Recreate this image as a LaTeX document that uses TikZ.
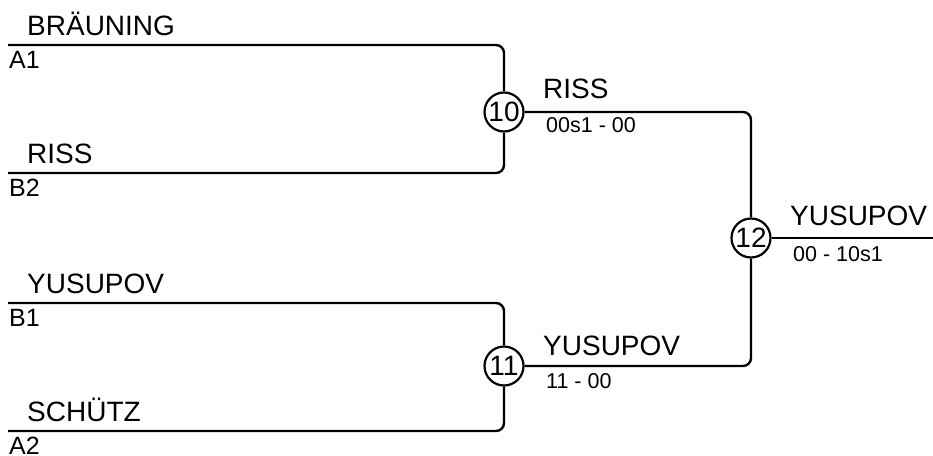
\documentclass[tikz,border=0pt]{standalone}
\usepackage{fontspec}
\setmainfont{Liberation Sans}

\begin{document}
\begin{tikzpicture}[x=1pt,y=-1pt]
% Les styles du tableau
\tikzstyle{trait}=[line width=2.4pt,rounded corners=8pt]
\tikzstyle{match}=[draw,circle,line width=2.2pt,minimum size=39pt,inner sep=0pt,fill=white,font=\fontsize{28}{28}\selectfont]
\tikzstyle{nom}=[anchor=base west,inner sep=0pt,font=\fontsize{28}{28}\selectfont]
\tikzstyle{place}=[nom,font=\fontsize{25}{25}\selectfont]
\tikzstyle{score}=[nom,font=\fontsize{21.5}{21.5}\selectfont]

\useasboundingbox (0,0) rectangle (933,455);

% Les matchs
\foreach \x/\y/\num in {504/112/10, 504/366/11, 751/238/12}{
    \node[match] (m\num) at (\x, \y) {\num};
}

% Les joueurs au départ
\foreach \y/\id/\joueur/\lettre in {45/a1/BRÄUNING/A1, 173/b2/RISS/B2,
                                    303/b1/YUSUPOV/B1, 431/a2/SCHÜTZ/A2}{
    \coordinate (\id) at (8, \y);
    \node[nom] (n\id) at (27, \y-10) {\joueur};
    \node[place] (p\id) at (9, \y+23) {\lettre};
}
\coordinate (fin) at (933, 238);

% Les vainqueurs
\node[nom] (v10) at (543, 98) {RISS};
\node[score] (s10) at (546, 132) {00s1 - 00};
\node[nom] (v11) at (543, 355) {YUSUPOV};
\node[score] (s11) at (546, 388) {11 - 00};
\node[nom] (v12) at (790, 225) {YUSUPOV};
\node[score] (s12) at (793, 261) {00 - 10s1};

% Les lignes du tableau
\draw[trait] (a1) -| (m10);
\draw[trait] (b2) -| (m10);
\draw[trait] (b1) -| (m11);
\draw[trait] (a2) -| (m11);
\draw[trait] (m10) -| (m12);
\draw[trait] (m11) -| (m12);
\draw[trait] (m12) -- (fin);
\end{tikzpicture}
\end{document}
